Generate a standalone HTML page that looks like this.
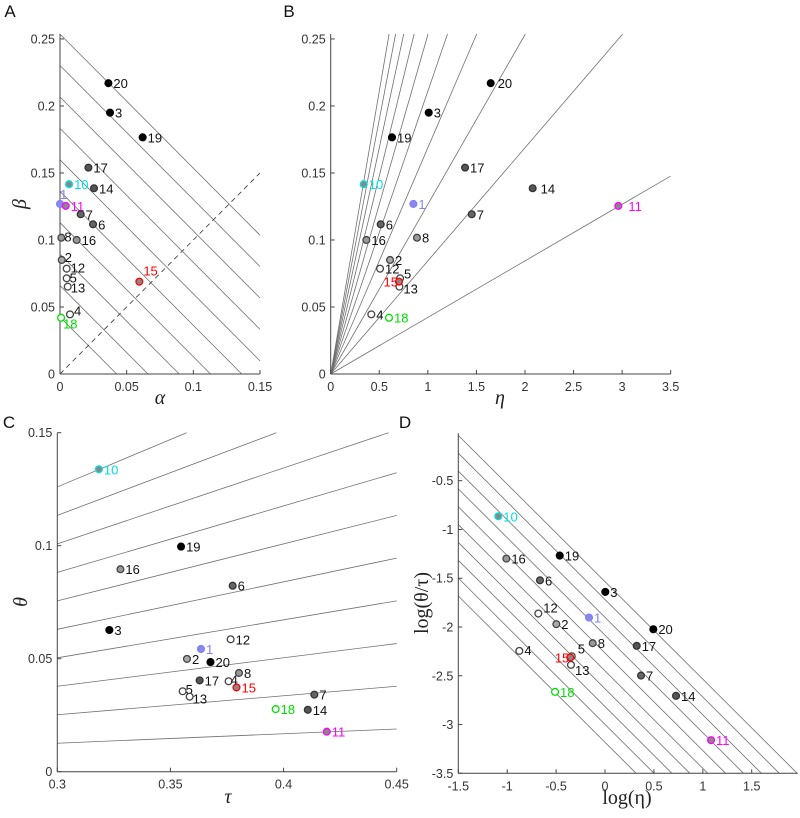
<!DOCTYPE html>
<html><head><meta charset="utf-8"><style>
html,body{margin:0;padding:0;background:#fff;width:800px;height:818px;overflow:hidden}
svg{display:block;font-family:"Liberation Sans",sans-serif}
.tk{font-size:12.5px;fill:#333}
.pl{font-size:13px}
.lt{font-size:17px;fill:#111}
.ax{font-family:"Liberation Serif",serif;font-style:italic;font-size:20px;fill:#222}
</style></head><body>
<svg id="fig" width="800" height="818" viewBox="0 0 800 818"></svg>
<script>
const ids=[20,3,19,17,10,14,1,11,7,6,8,16,2,12,5,13,15,4,18];
const alphaVals=[0.0363,0.0375,0.062,0.0213,0.0068,0.0255,0.0,0.0043,0.0155,0.0248,0.001,0.0125,0.0013,0.005,0.005,0.0058,0.0595,0.0075,0.0008];
const betaVals=[0.217,0.195,0.1766,0.154,0.1416,0.1386,0.1269,0.1254,0.1192,0.1117,0.1017,0.100,0.0851,0.0786,0.0714,0.0652,0.0689,0.0445,0.042];
const etaVals=[1.647,1.009,0.631,1.383,0.340,2.079,0.851,2.961,1.452,0.515,0.888,0.367,0.611,0.508,0.714,0.707,0.703,0.418,0.600];
const tauVals=[0.3677,0.3230,0.3547,0.3629,0.3184,0.4107,0.3635,0.4191,0.4136,0.3775,0.3803,0.3279,0.3573,0.3766,0.3554,0.3585,0.3792,0.3757,0.3965];
const thetaVals=[0.0485,0.0627,0.0996,0.0404,0.1338,0.0274,0.0543,0.0177,0.0341,0.0823,0.0437,0.0896,0.0499,0.0586,0.0356,0.0332,0.0373,0.0400,0.0277];
const logEtaVals=[0.494,0.003,-0.463,0.324,-1.091,0.726,-0.164,1.084,0.368,-0.665,-0.126,-1.009,-0.498,-0.682,-0.34,-0.348,-0.355,-0.876,-0.511];
const logRatioVals=[-2.023,-1.640,-1.268,-2.193,-0.865,-2.706,-1.903,-3.160,-2.498,-1.521,-2.166,-1.299,-1.971,-1.862,-2.30,-2.388,-2.313,-2.245,-2.665];
const aLevels=[0.0425,0.0660,0.0894,0.1129,0.1363,0.1598,0.1833,0.2067,0.2302,0.2536];
const bSlopes=[0.0422,0.0844,0.1266,0.1688,0.211,0.2532,0.2954,0.3376,0.3798,0.422];
const cSlopes=[0.042,0.084,0.126,0.168,0.21,0.252,0.294,0.336,0.378,0.42];
const dLevels=[-1.535,-1.718,-1.901,-2.084,-2.267,-2.45,-2.633,-2.816,-2.999,-3.182];
const yTicksAB=[0,0.05,0.1,0.15,0.2,0.25], yTickLabAB=["0","0.05","0.1","0.15","0.2","0.25"];
const xTicksA=[0,0.05,0.1,0.15], xTickLabA=["0","0.05","0.1","0.15"];
const xTicksB=[0,0.5,1,1.5,2,2.5,3,3.5], xTickLabB=["0","0.5","1","1.5","2","2.5","3","3.5"];
const xTicksC=[0.3,0.35,0.4,0.45], xTickLabC=["0.3","0.35","0.4","0.45"];
const yTicksC=[0,0.05,0.1,0.15], yTickLabC=["0","0.05","0.1","0.15"];
const xTicksD=[-1.5,-1,-0.5,0,0.5,1,1.5], xTickLabD=["-1.5","-1","-0.5","0","0.5","1","1.5"];
const yTicksD=[-3.5,-3,-2.5,-2,-1.5,-1,-0.5], yTickLabD=["-3.5","-3","-2.5","-2","-1.5","-1","-0.5"];

const NS="http://www.w3.org/2000/svg";
const svg=document.getElementById('fig');
function mk(tag,attrs,parent){const e=document.createElementNS(NS,tag);for(const k in attrs)e.setAttribute(k,attrs[k]);(parent||svg).appendChild(e);return e;}
const sty={20:['#000','#000','#111'],3:['#000','#000','#111'],19:['#000','#000','#111'],
17:['#555','#333','#111'],14:['#555','#333','#111'],7:['#666','#333','#111'],6:['#666','#333','#111'],
8:['#999','#444','#111'],16:['#999','#444','#111'],2:['#aaa','#444','#111'],
12:['#fff','#444','#111'],5:['#fff','#444','#111'],13:['#fff','#444','#111'],4:['#fff','#444','#111'],
10:['#888','#00e0e0','#00e0e0'],1:['#8a8ae6','#8080ff','#8080ff'],11:['#888','#ff00ff','#ff00ff'],
15:['#888','#ff0000','#ff0000'],18:['#fff','#00e000','#00e000']};

function clipSeg(x1,y1,x2,y2,xmin,xmax,ymin,ymax){
  let t0=0,t1=1;const dx=x2-x1,dy=y2-y1;
  const P=[-dx,dx,-dy,dy],Q=[x1-xmin,xmax-x1,y1-ymin,ymax-y1];
  for(let i=0;i<4;i++){
    if(P[i]===0){if(Q[i]<0)return null;continue;}
    const r=Q[i]/P[i];
    if(P[i]<0){if(r>t1)return null;if(r>t0)t0=r;}else{if(r<t0)return null;if(r<t1)t1=r;}
  }
  return [x1+t0*dx,y1+t0*dy,x1+t1*dx,y1+t1*dy];
}

function panel(p){
  const g=mk('g',{});
  
  
  const sx=v=>p.x0+(v-p.xmin)/(p.xmax-p.xmin)*(p.x1-p.x0);
  const sy=v=>p.y0-(v-p.ymin)/(p.ymax-p.ymin)*(p.y0-p.y1);
  const lg=mk('g',{},g);
  
  
  p.lines(sx,sy).forEach(l=>{
    const c=clipSeg(l[0],l[1],l[2],l[3],p.x0,p.x1,p.y1,p.y0);
    if(!c)return;
    const ln=mk('line',{x1:c[0],y1:c[1],x2:c[2],y2:c[3],stroke:l[4]||'#707070','stroke-width':0.8,'stroke-dasharray':l[5]||'none'},lg);
    
    
  });
  const xa=mk('line',{x1:p.x0,y1:p.y0,x2:p.x1,y2:p.y0,stroke:'#444','stroke-width':1},g);
  
  const ya=mk('line',{x1:p.x0,y1:p.y0,x2:p.x0,y2:p.y1,stroke:'#444','stroke-width':1},g);
  
  p.xt.forEach((v,i)=>{const x=sx(v);
    mk('line',{x1:x,y1:p.y0,x2:x,y2:p.y0-4,stroke:'#444'},g);
    const t=mk('text',{x:x,y:p.y0+17,'text-anchor':'middle',class:'tk'},g);t.textContent=p.xl[i];
    });
  p.yt.forEach((v,i)=>{const y=sy(v);
    mk('line',{x1:p.x0,y1:y,x2:p.x0+4,y2:y,stroke:'#444'},g);
    const t=mk('text',{x:p.x0-5,y:y+4.5,'text-anchor':'end',class:'tk'},g);t.textContent=p.yl[i];
    });
  ids.forEach((id,i)=>{
    const x=sx(p.xs[i]),y=sy(p.ys[i]);const s=sty[id];
    const c=mk('circle',{cx:x,cy:y,r:3.4,fill:s[0],stroke:s[1],'stroke-width':1.3},g);
    
    
    const o=(p.off&&p.off[id])||[5,5,'start'];
    const t=mk('text',{x:x+o[0],y:y+o[1],fill:s[2],class:'pl','text-anchor':o[2]||'start'},g);
    t.textContent=String(id);
    
    
  });
}

panel({name:'a',x0:60,x1:260,y0:374,y1:34,xmin:0,xmax:0.15,ymin:0,ymax:0.2537,
  xs:alphaVals,ys:betaVals,xt:xTicksA,xl:xTickLabA,yt:yTicksAB,yl:yTickLabAB,
  lines:(sx,sy)=>aLevels.map(c=>[sx(0),sy(c),sx(c),sy(0)]).concat([[sx(0),sy(0),sx(0.15),sy(0.15),'#333','5,4']]),
  off:{1:[0,-5],18:[2,11],15:[4,-6],4:[4,1],11:[5,5],8:[3,4],2:[3,2],5:[3,4],13:[3,6],12:[4,4]}});
panel({name:'b',x0:330.7,x1:670.7,y0:374,y1:34,xmin:0,xmax:3.5,ymin:0,ymax:0.2537,
  xs:etaVals,ys:betaVals,xt:xTicksB,xl:xTickLabB,yt:yTicksAB,yl:yTickLabAB,
  lines:(sx,sy)=>bSlopes.map(s=>[sx(0),sy(0),sx(3.5),sy(3.5*s)]),
  off:{15:[-1,5,'end'],5:[4,0],13:[4,7],11:[10,5],14:[8,5],20:[7,5]}});
panel({name:'c',x0:57.3,x1:396.7,y0:771.7,y1:432.7,xmin:0.3,xmax:0.45,ymin:0,ymax:0.15,
  xs:tauVals,ys:thetaVals,xt:xTicksC,xl:xTickLabC,yt:yTicksC,yl:yTickLabC,
  lines:(sx,sy)=>cSlopes.map(s=>[sx(0.3),sy(0.3*s),sx(0.45),sy(0.45*s)]),
  off:{4:[2,3],5:[3,3],13:[3,7]}});
panel({name:'d',x0:458.3,x1:797.7,y0:773.3,y1:433.3,xmin:-1.5,xmax:1.97,ymin:-3.5,ymax:-0.014,
  xs:logEtaVals,ys:logRatioVals,xt:xTicksD,xl:xTickLabD,yt:yTicksD,yl:yTickLabD,
  lines:(sx,sy)=>dLevels.map(c=>[sx(-1.5),sy(c+1.5),sx(1.97),sy(c-1.97)]),
  off:{15:[-1,5,'end'],5:[6,-3],13:[4,10],4:[5,4],12:[5,-1]}});

function txt(s,x,y,cls,name,rot){const t=mk('text',{x:x,y:y,class:cls,'text-anchor':'middle'});
  if(rot)t.setAttribute('transform','rotate(-90 '+x+' '+y+')');t.textContent=s;
  return t;}
txt('A',10,17,'lt','panel-label-a');
txt('B',289,17,'lt','panel-label-b');
txt('C',9,428,'lt','panel-label-c');
txt('D',405,428,'lt','panel-label-d');
txt('α',160,404,'ax','x-axis-title-a');
txt('β',26,204,'ax','y-axis-title-a',true);
txt('η',500,404,'ax','x-axis-title-b');
txt('τ',228,803,'ax','x-axis-title-c');
txt('θ',27,602,'ax','y-axis-title-c',true);
const lx=txt('log(η)',627,804,'ax','x-axis-title-d');lx.style.fontStyle='normal';
const ly=txt('log(θ/τ)',428,603,'ax','y-axis-title-d',true);ly.style.fontStyle='normal';
</script>
</body></html>
